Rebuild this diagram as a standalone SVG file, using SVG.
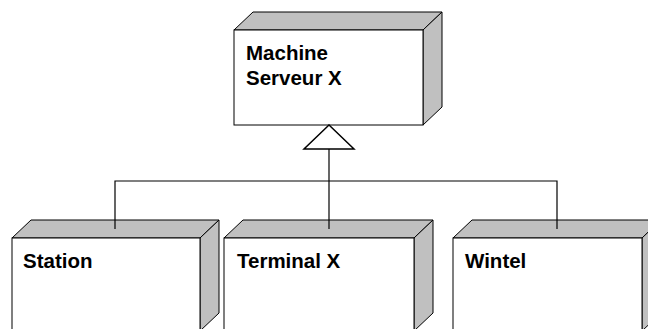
<svg xmlns="http://www.w3.org/2000/svg" width="648" height="329" viewBox="0 0 648 329">
  <style>
    .front { fill: #ffffff; stroke: #000000; stroke-width: 1; }
    .shade { fill: #c0c0c0; stroke: #000000; stroke-width: 1; stroke-linejoin: miter; }
    .label { font-family: "Liberation Sans", Arial, sans-serif; font-weight: bold; font-size: 20.5px; fill: #000000; }
    .wire { fill: none; stroke: #000000; stroke-width: 1.2; }
    .head { fill: #ffffff; stroke: #000000; stroke-width: 1.5; }
  </style>
  <rect width="648" height="329" fill="#ffffff"/>

  <!-- Server node -->
  <g id="machine-serveur-x">
    <polygon class="shade" points="234,30 253,12 442,12 423,30"/>
    <polygon class="shade" points="423,30 442,12 442,107 423,125"/>
    <rect class="front" x="234" y="30" width="189" height="95"/>
    <text class="label" x="246" y="60">Machine</text>
    <text class="label" x="246" y="85">Serveur X</text>
  </g>

  <!-- Client nodes -->
  <g id="station">
    <polygon class="shade" points="12,238 31,220 219,220 200,238"/>
    <polygon class="shade" points="200,238 219,220 219,313 200,331"/>
    <rect class="front" x="12" y="238" width="188" height="93"/>
    <text class="label" x="23" y="268">Station</text>
  </g>

  <g id="terminal-x">
    <polygon class="shade" points="224,238 243,220 433,220 414,238"/>
    <polygon class="shade" points="414,238 433,220 433,313 414,331"/>
    <rect class="front" x="224" y="238" width="190" height="93"/>
    <text class="label" x="237" y="268">Terminal X</text>
  </g>

  <g id="wintel">
    <polygon class="shade" points="453,238 472,220 661,220 642,238"/>
    <polygon class="shade" points="642,238 661,220 661,313 642,331"/>
    <rect class="front" x="453" y="238" width="189" height="93"/>
    <text class="label" x="465" y="268">Wintel</text>
  </g>

  <!-- Generalization connectors -->
  <g id="connectors">
    <path class="wire" d="M329,149 V229"/>
    <path class="wire" d="M115,229 V181 H557 V229"/>
    <polygon class="head" points="329,125 304,149 354,149"/>
  </g>
</svg>
